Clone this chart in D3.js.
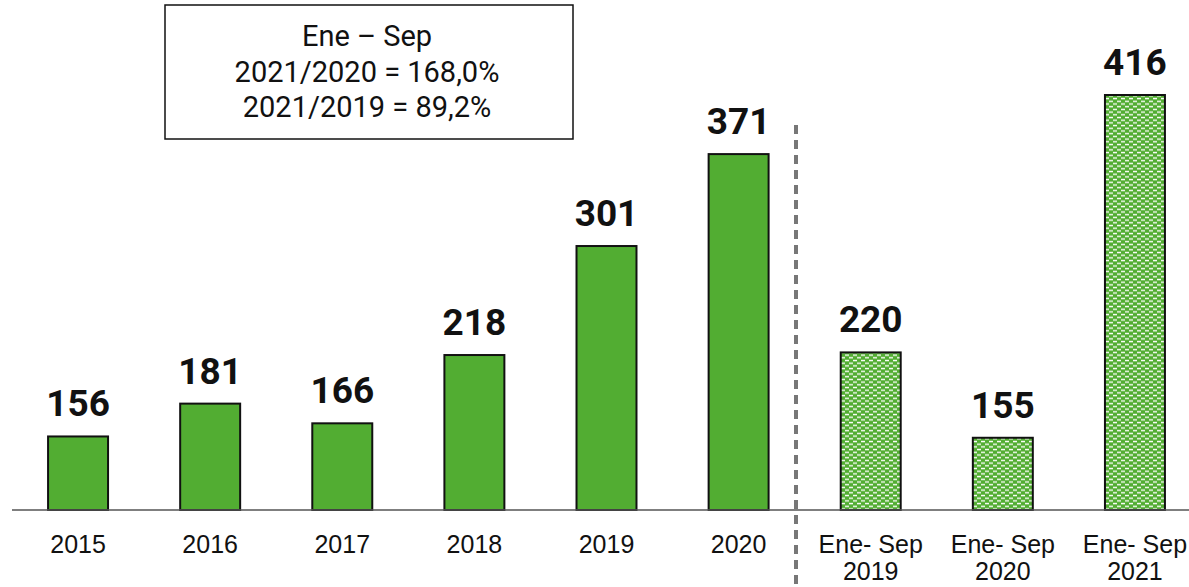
<!DOCTYPE html>
<html>
<head>
<meta charset="utf-8">
<script src="https://cdn.jsdelivr.net/npm/d3@7"></script>
<style>
  body { margin: 0; background: white; }
  svg { display: block; font-family: Roboto, "Noto Sans", sans-serif; }
</style>
</head>
<body>
<div id="chart"></div>
<script>
// Chart data
const categories = ["2015", "2016", "2017", "2018", "2019", "2020", "Ene- Sep|2019", "Ene- Sep|2020", "Ene- Sep|2021"];
const values = [156, 181, 166, 218, 301, 371, 220, 155, 416];
const patterned = [false, false, false, false, false, false, true, true, true];
const noteLines = ["Ene – Sep", "2021/2020 = 168,0%", "2021/2019 = 89,2%"];

const width = 1189, height = 587;
const baseY = 510;
const green = "#52ad32";

const svg = d3.select("#chart")
    .append("svg")
    .attr("width", width)
    .attr("height", height);

// Brick-like dotted pattern for the partial-year bars
const defs = svg.append("defs");
const pat = defs.append("pattern")
    .attr("id", "bricks")
    .attr("patternUnits", "userSpaceOnUse")
    .attr("width", 8)
    .attr("height", 5.4);
pat.append("rect").attr("width", 8).attr("height", 5.4).attr("fill", green);
pat.append("rect").attr("x", 1).attr("y", 0.7).attr("width", 4).attr("height", 1.4).attr("fill", "white");
pat.append("rect").attr("x", 5).attr("y", 3.4).attr("width", 4).attr("height", 1.4).attr("fill", "white");
pat.append("rect").attr("x", -3).attr("y", 3.4).attr("width", 4).attr("height", 1.4).attr("fill", "white");

// Scales
const x = d3.scaleBand()
    .domain(categories)
    .range([12, 1201])
    .paddingInner(0.546)
    .paddingOuter(0.273);

const y = d3.scaleLinear()
    .domain([100, 416])
    .range([baseY, 95]);

// Bars
svg.selectAll("rect.bar")
    .data(values)
    .enter()
    .append("rect")
    .attr("class", "bar")
    .attr("x", (d, i) => x(categories[i]))
    .attr("y", d => y(d))
    .attr("width", x.bandwidth())
    .attr("height", d => baseY - y(d))
    .attr("fill", (d, i) => patterned[i] ? "url(#bricks)" : green)
    .attr("stroke", "#111")
    .attr("stroke-width", 2);

// Value labels
svg.selectAll("text.val")
    .data(values)
    .enter()
    .append("text")
    .attr("class", "val")
    .attr("x", (d, i) => x(categories[i]) + x.bandwidth() / 2)
    .attr("y", d => y(d) - 20)
    .attr("text-anchor", "middle")
    .style("font-size", "37px")
    .style("font-weight", "bold")
    .attr("fill", "#111")
    .text(d => d);

// Baseline axis
const axis = svg.append("g")
    .attr("transform", `translate(0,${baseY})`)
    .call(d3.axisBottom(x).tickSize(0).tickPadding(0).tickFormat(""));
axis.select(".domain").attr("d", `M12,0H${width}`).attr("stroke", "#555").attr("stroke-width", 1.5);

// Category labels (two lines where needed)
axis.selectAll(".tick").each(function(d) {
    const parts = d.split("|");
    const t = d3.select(this).append("text")
        .attr("fill", "#111")
        .attr("text-anchor", "middle")
        .style("font-size", "25px");
    parts.forEach((p, k) => {
        t.append("tspan").attr("x", 0).attr("y", 43 + k * 27).text(p);
    });
});

// Dashed separator
svg.append("line")
    .attr("x1", 796).attr("x2", 796)
    .attr("y1", 125).attr("y2", height)
    .attr("stroke", "#777")
    .attr("stroke-width", 4)
    .attr("stroke-dasharray", "9,6");

// Annotation box
svg.append("rect")
    .attr("x", 165).attr("y", 5)
    .attr("width", 408).attr("height", 134)
    .attr("fill", "white")
    .attr("stroke", "#111")
    .attr("stroke-width", 1.5);

svg.selectAll("text.note")
    .data(noteLines)
    .enter()
    .append("text")
    .attr("class", "note")
    .attr("x", 367)
    .attr("y", (d, i) => 46 + i * 35.5)
    .attr("text-anchor", "middle")
    .style("font-size", "29px")
    .attr("fill", "#111")
    .text(d => d);
</script>
</body>
</html>
